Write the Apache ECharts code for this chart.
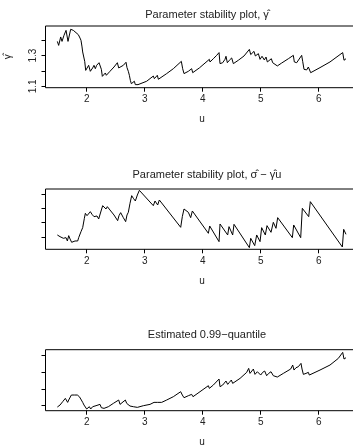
<!DOCTYPE html>
<html>
<head>
<meta charset="utf-8">
<script src="https://cdn.jsdelivr.net/npm/echarts@6/dist/echarts.min.js"></script>
<style>
  html, body { margin: 0; padding: 0; background: #fff; }
  #chart { width: 353px; height: 445px; }
</style>
</head>
<body>
<div id="chart"></div>
<script>
// threshold u shared by the three panels (read per panel)
const gammaU = [1.494, 1.517, 1.552, 1.575, 1.609, 1.644, 1.678, 1.724, 1.753, 1.770, 1.799, 1.816, 1.839, 1.856, 1.874, 1.885, 1.902, 1.920, 1.931, 1.954, 1.966, 1.983,
  2.000, 2.034, 2.063, 2.103, 2.126, 2.149, 2.172, 2.213, 2.236, 2.253, 2.270, 2.293, 2.322, 2.339, 2.368, 2.402, 2.471, 2.529, 2.552, 2.580, 2.632, 2.678, 2.695, 2.718, 2.736, 2.753, 2.770, 2.793, 2.822, 2.839, 2.862, 2.885, 2.908,
  3.034, 3.149, 3.167, 3.195, 3.218, 3.236, 3.264, 3.379, 3.494, 3.632, 3.655, 3.678, 3.753, 3.810, 3.828, 3.943,
  4.115, 4.126, 4.184, 4.241, 4.282, 4.299, 4.345, 4.385, 4.402, 4.425, 4.460, 4.500, 4.529, 4.615, 4.713, 4.805, 4.828, 4.856, 4.885, 4.908, 4.960, 4.989,
  5.023, 5.063, 5.092, 5.115, 5.149, 5.184, 5.207, 5.287, 5.362, 5.477, 5.563, 5.580, 5.621, 5.707, 5.724, 5.747, 5.793, 5.822, 5.851, 5.862,
  6.023, 6.195, 6.414, 6.437, 6.471];
const gammaHat = [1.393, 1.367, 1.422, 1.393, 1.433, 1.465, 1.393, 1.472, 1.480, 1.465, 1.459, 1.450, 1.450, 1.437, 1.437, 1.415, 1.400, 1.357, 1.324, 1.313, 1.263, 1.204,
  1.215, 1.237, 1.198, 1.220, 1.237, 1.215, 1.237, 1.254, 1.259, 1.211, 1.165, 1.167, 1.187, 1.172, 1.183, 1.198, 1.226, 1.254, 1.220, 1.211, 1.237, 1.257, 1.222, 1.198, 1.172, 1.139, 1.117, 1.128, 1.133, 1.111, 1.122, 1.111, 1.102,
  1.133, 1.167, 1.150, 1.161, 1.172, 1.146, 1.154, 1.183, 1.215, 1.263, 1.215, 1.183, 1.198, 1.215, 1.189, 1.220,
  1.276, 1.259, 1.280, 1.302, 1.320, 1.248, 1.254, 1.276, 1.296, 1.254, 1.270, 1.285, 1.248, 1.270, 1.298, 1.341, 1.307, 1.313, 1.328, 1.298, 1.313, 1.276,
  1.296, 1.272, 1.291, 1.259, 1.270, 1.280, 1.254, 1.233, 1.252, 1.280, 1.302, 1.259, 1.254, 1.302, 1.263, 1.211, 1.207, 1.226, 1.233, 1.189,
  1.222, 1.259, 1.320, 1.270, 1.280];

const sigmaU = [1.494, 1.517, 1.540, 1.563, 1.598, 1.621, 1.644, 1.667, 1.690, 1.713, 1.741, 1.770, 1.799, 1.828, 1.845, 1.862, 1.885, 1.902, 1.931, 1.960, 1.977,
  2.006, 2.029, 2.063, 2.092, 2.126, 2.155, 2.178, 2.207, 2.230, 2.253, 2.276, 2.305, 2.333, 2.356, 2.402, 2.471, 2.534, 2.557, 2.586, 2.632, 2.672, 2.695, 2.718, 2.747, 2.776, 2.805, 2.839, 2.874, 2.908,
  3.149, 3.178, 3.224, 3.253, 3.621, 3.649, 3.678, 3.753, 3.793, 3.822,
  4.098, 4.121, 4.282, 4.299, 4.431, 4.454, 4.517, 4.540, 4.805, 4.828, 4.897, 4.931, 4.989,
  5.017, 5.080, 5.109, 5.178, 5.218, 5.264, 5.293, 5.546, 5.569, 5.690, 5.718, 5.828, 5.856,
  6.408, 6.431, 6.471];
const sigmaMinusGammaU = [1.140, 1.233, 1.023, 1.093, 0.907, 0.791, 0.953, 0.721, 1.093, 0.860, 0.628, 0.721, 0.721, 0.791, 0.721, 0.953, 0.907, 1.372, 1.651, 2.302, 2.651,
  2.488, 2.372, 2.767, 2.581, 2.419, 2.302, 2.465, 2.256, 2.163, 2.884, 3.186, 3.047, 2.953, 3.116, 2.884, 2.535, 2.140, 2.488, 2.698, 2.349, 2.070, 2.535, 2.721, 3.349, 3.884, 3.698, 3.512, 3.930, 4.256,
  3.186, 3.512, 3.233, 3.581, 1.674, 2.419, 2.953, 2.721, 2.349, 2.814,
  1.256, 1.767, 0.674, 1.907, 1.140, 1.721, 1.140, 1.884, 0.256, 0.907, 0.395, 1.140, 0.674,
  1.651, 1.140, 1.791, 1.326, 2.023, 1.605, 2.349, 0.953, 1.837, 0.953, 3.000, 2.419, 3.465,
  0.302, 1.535, 1.186];

const quantU = [1.494, 1.517, 1.540, 1.563, 1.586, 1.609, 1.632, 1.655, 1.672, 1.690, 1.713, 1.736, 1.753, 1.770, 1.793, 1.816, 1.839, 1.856, 1.874, 1.891, 1.908, 1.931, 1.954, 1.977,
  2.000, 2.023, 2.046, 2.069, 2.103, 2.126, 2.161, 2.195, 2.230, 2.253, 2.276, 2.299, 2.333, 2.374, 2.460, 2.552, 2.575, 2.609, 2.667, 2.690, 2.718, 2.747, 2.776, 2.805, 2.839, 2.874, 2.908, 2.977,
  3.092, 3.161, 3.184, 3.218, 3.241, 3.293, 3.379, 3.494, 3.621, 3.649, 3.678, 3.753, 3.810, 3.833, 3.954,
  4.098, 4.115, 4.184, 4.282, 4.299, 4.345, 4.402, 4.431, 4.460, 4.494, 4.517, 4.644, 4.759, 4.793, 4.816, 4.845, 4.874, 4.902, 4.943, 4.971,
  5.000, 5.034, 5.069, 5.103, 5.138, 5.178, 5.218, 5.287, 5.391, 5.517, 5.552, 5.575, 5.609, 5.649, 5.695, 5.713, 5.736, 5.782, 5.822, 5.839, 5.862,
  6.023, 6.195, 6.339, 6.414, 6.437, 6.471];
const quantile99 = [0.921, 0.882, 1.039, 1.079, 1.237, 1.197, 1.434, 1.474, 1.197, 1.336, 1.434, 1.632, 1.671, 1.632, 1.632, 1.671, 1.632, 1.671, 1.533, 1.632, 1.336, 1.197, 1.039, 1.000,
  0.803, 0.882, 0.941, 0.803, 0.941, 0.882, 1.000, 0.941, 1.079, 0.882, 0.803, 0.842, 0.882, 0.941, 1.138, 1.336, 1.079, 1.138, 1.336, 1.138, 1.039, 0.980, 0.921, 0.941, 1.000, 0.901, 0.921, 1.000,
  1.079, 1.197, 1.118, 1.197, 1.118, 1.197, 1.336, 1.533, 1.829, 1.632, 1.474, 1.592, 1.671, 1.533, 1.829,
  2.184, 2.026, 2.224, 2.579, 2.125, 2.224, 2.461, 2.263, 2.382, 2.520, 2.322, 2.618, 2.974, 3.211, 2.914, 3.013, 3.171, 2.855, 3.013, 3.112,
  2.816, 2.974, 3.053, 2.776, 2.914, 3.013, 2.776, 2.697, 2.914, 3.171, 3.408, 3.112, 3.250, 3.309, 3.507, 3.171, 2.855, 2.914, 2.974, 2.816, 2.914,
  3.112, 3.408, 3.803, 4.158, 3.763, 3.842];

const xTicks = [2, 3, 4, 5, 6];
const gammaTicks = [1.1, 1.2, 1.3, 1.4];
const gammaTickLabels = [1.1, 1.3];
const plainTicks = [1, 2, 3, 4];

const titles = [
  'Parameter stability plot, \u03b3\u0302',
  'Parameter stability plot, \u03c3\u0302 \u2212 \u03b3\u0302u',
  'Estimated 0.99\u2212quantile',
];

const FONT = '"Liberation Sans", Arial, sans-serif';
const TEXT = '#222';

const pair = (xs, ys) => xs.map((x, i) => [x, ys[i]]);

// the plot box runs past the right edge of the picture, as in the reference
const grids = [
  { left: 45.5, top: 26, width: 313.2, height: 61.7 },
  { left: 45.5, top: 189, width: 313.2, height: 60.3 },
  { left: 45.5, top: 349.7, width: 313.2, height: 61 },
].map((g) => ({
  ...g,
  show: true,
  borderColor: '#000',
  borderWidth: 1,
  backgroundColor: 'transparent',
  containLabel: false,
  outerBoundsMode: 'none',
}));

const xAxis = grids.map((g, i) => ({
  gridIndex: i,
  type: 'value',
  min: 1.29,
  max: 6.69,
  name: 'u',
  nameLocation: 'middle',
  nameGap: 27,
  nameTextStyle: { fontFamily: FONT, fontSize: 10, color: TEXT },
  axisLine: { show: false },
  axisTick: { show: true, length: 4, customValues: xTicks, lineStyle: { color: '#000' } },
  axisLabel: { customValues: xTicks, fontFamily: FONT, fontSize: 10, color: TEXT, margin: 7 },
  splitLine: { show: false },
}));

const yRanges = [[1.091, 1.4935], [0.14, 4.349], [0.704, 4.316]];

const yAxis = yRanges.map((r, i) => ({
  gridIndex: i,
  type: 'value',
  min: r[0],
  max: r[1],
  name: i === 0 ? '\u03b3\u0302' : '',
  nameLocation: 'middle',
  nameRotate: 90,
  nameGap: 32,
  nameTextStyle: { fontFamily: FONT, fontSize: 10, color: TEXT },
  axisLine: { show: false },
  axisTick: { show: true, length: 4, customValues: i === 0 ? gammaTicks : plainTicks, lineStyle: { color: '#000' } },
  axisLabel: {
    show: i === 0,
    customValues: gammaTickLabels,
    rotate: 90,
    fontFamily: FONT,
    fontSize: 10,
    color: TEXT,
    margin: 7,
    formatter: (v) => v.toFixed(1),
  },
  splitLine: { show: false },
}));

const seriesData = [pair(gammaU, gammaHat), pair(sigmaU, sigmaMinusGammaU), pair(quantU, quantile99)];

const series = seriesData.map((d, i) => ({
  type: 'line',
  xAxisIndex: i,
  yAxisIndex: i,
  data: d,
  showSymbol: false,
  clip: false,
  lineStyle: { color: '#000', width: 1 },
}));

const titleTops = [4, 164, 324];
const title = titles.map((t, i) => ({
  text: t,
  left: 202,
  top: titleTops[i],
  textAlign: 'center',
  textStyle: { fontFamily: FONT, fontSize: 11, fontWeight: 'normal', color: TEXT },
}));

const chart = echarts.init(document.getElementById('chart'), null, { renderer: 'canvas' });
chart.setOption({
  animation: false,
  backgroundColor: '#fff',
  title,
  grid: grids,
  xAxis,
  yAxis,
  series,
});
</script>
</body>
</html>
